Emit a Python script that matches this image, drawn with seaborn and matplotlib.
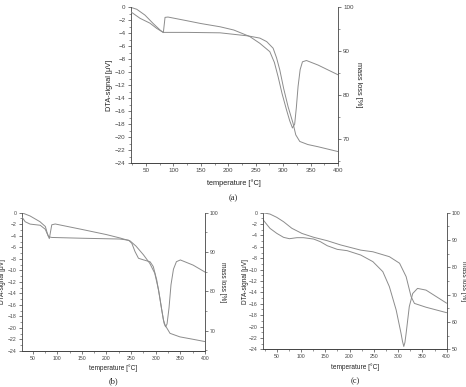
import matplotlib
matplotlib.use('Agg')
import matplotlib.pyplot as plt
from matplotlib.ticker import MultipleLocator
import seaborn as sns

# panel (a)
temp_a_dta = [22, 33, 48, 63, 75.5, 81.5, 84.6, 90, 124, 150, 185, 210, 239, 257.5, 275.7, 284, 290.8,
              298, 306.1, 312, 317, 321, 324, 327.2, 331, 335.2, 342.5, 363.6, 400]
dta_a = [0, -0.3, -1.2, -2.5, -3.5, -3.9, -1.55, -1.5, -2.06, -2.5, -3.0, -3.5, -4.5, -5.55, -6.84, -8.5, -10.7,
         -13.3, -15.8, -17.5, -18.6, -18.0, -15.5, -12.2, -9.6, -8.4, -8.2, -8.9, -10.4]
temp_a_mass = [22, 39, 57, 69.5, 78.6, 81.5, 90, 124, 185, 236, 257.5, 270, 281.7, 288, 293.9, 301, 309,
               318.1, 323, 330.3, 345, 363.6, 400]
mass_a = [99.0, 97.5, 96.4, 95.2, 94.5, 94.3, 94.3, 94.3, 94.2, 93.5, 93.0, 92.2, 90.7, 88.5, 85.75, 81.5, 77.4,
          73.6, 71.0, 69.5, 68.8, 68.3, 67.2]

# panel (b)
temp_b_dta = [28, 45, 65, 76, 80, 84, 89, 96, 150, 200, 228, 248, 260, 275, 288, 298, 306, 312, 317, 320,
              323, 327, 331, 336, 342, 350, 376, 400]
dta_b = [0, -0.57, -1.56, -2.4, -3.6, -4.5, -2.1, -1.96, -2.9, -3.8, -4.4, -4.9, -5.8, -7.3, -8.8, -10.5,
         -13.5, -16.8, -19.2, -19.8, -19.3, -16.5, -12.5, -9.8, -8.5, -8.2, -9.1, -10.3]
temp_b_mass = [28, 35, 45, 65.6, 75.7, 82.4, 89, 150, 227, 245, 251.5, 258, 265, 275, 288.6, 295, 302, 309,
               315.6, 319, 329, 349, 375, 400]
mass_b = [99.0, 97.7, 97.1, 96.8, 95.8, 93.9, 93.7, 93.5, 93.3, 93.0, 92.2, 90.1, 88.4, 88.0, 87.5, 86.3,
          82.9, 77.8, 72.7, 71.4, 69.3, 68.4, 67.8, 67.2]

# panel (c)
temp_c_dta = [21, 36, 50, 64, 76, 91.5, 105, 126, 140, 154, 174.6, 195, 223, 248, 268.5, 282, 296, 306,
              309, 311.7, 314, 316.5, 323, 330, 340, 357.5, 400]
dta_c = [-1.17, -2.75, -3.63, -4.33, -4.57, -4.39, -4.39, -4.63, -5.1, -5.8, -6.44, -6.67, -7.44, -8.6,
         -10.36, -13.0, -17.1, -21.2, -22.6, -23.5, -22.8, -21.2, -16.5, -14.2, -13.3, -13.6, -15.9]
temp_c_mass = [21, 36, 50, 64, 81, 102, 126, 154, 181.5, 223, 248, 282, 303, 316.5, 326.7, 333.6, 357.5, 400]
mass_c = [100, 99.5, 98.3, 96.7, 94.3, 92.4, 91.0, 89.75, 88.2, 86.3, 85.7, 83.9, 81.5, 76.6, 69.3, 66.8,
          65.4, 63.4]

sns.set_style('ticks')
plt.rcParams['font.family'] = ['Liberation Sans', 'DejaVu Sans']
plt.rcParams['axes.linewidth'] = 0.6

line_c = '#8c8c8c'
dark = '#444444'


def panel(fig, rect, t1, y1, t2, y2, xmin, mlim, mstep, tfs, lfs, ylx, rlx, xly, cap, capxy):
    ax = fig.add_axes(rect)
    ax2 = ax.twinx()
    sns.lineplot(x=t1, y=y1, ax=ax, color=line_c, lw=0.7, estimator=None, sort=False)
    sns.lineplot(x=t2, y=y2, ax=ax2, color=line_c, lw=0.7, estimator=None, sort=False)
    ax.set_xlim(xmin, 400)
    ax.set_ylim(-24, 0)
    ax2.set_ylim(*mlim)
    ax.xaxis.set_major_locator(MultipleLocator(50))
    ax.xaxis.set_minor_locator(MultipleLocator(25))
    ax.yaxis.set_major_locator(MultipleLocator(2))
    ax.yaxis.set_minor_locator(MultipleLocator(1))
    ax2.yaxis.set_major_locator(MultipleLocator(mstep))
    ax2.yaxis.set_minor_locator(MultipleLocator(mstep / 2))
    for a in (ax, ax2):
        a.set_xlabel('')
        a.set_ylabel('')
        a.spines['top'].set_visible(False)
        for s in a.spines.values():
            s.set_color(dark)
            s.set_linewidth(0.6)
        a.tick_params(which='major', length=2.2, width=0.5, colors=dark, labelsize=tfs, pad=1.5)
        a.tick_params(which='minor', length=1.2, width=0.4, colors=dark)
    ax.spines['right'].set_visible(False)
    ax2.spines['left'].set_visible(False)
    ax.text(ylx, 0.5, 'DTA-signal [\u03bcV]', transform=ax.transAxes, rotation=90,
            ha='center', va='center', fontsize=lfs, color='#222222')
    ax.text(rlx, 0.5, 'mass loss [%]', transform=ax.transAxes, rotation=-90,
            ha='center', va='center', fontsize=lfs, color='#222222')
    ax.text(0.5, xly, 'temperature [\u00b0C]', transform=ax.transAxes,
            ha='center', va='center', fontsize=lfs, color='#222222')
    fig.text(capxy[0] / 466, 1 - capxy[1] / 387, cap, ha='center', va='center',
             fontsize=6, family='Liberation Serif', color='#222222')
    return ax


fig = plt.figure(figsize=(4.66, 3.87), dpi=100)

panel(fig, [0.2805, 0.5788, 0.4448, 0.4023], temp_a_dta, dta_a, temp_a_mass, mass_a,
      22, (64.6, 100), 10, 4.5, 5.3, -0.10, 1.10, -0.127, '(a)', (233, 198))
panel(fig, [0.0466, 0.0930, 0.3933, 0.3574], temp_b_dta, dta_b, temp_b_mass, mass_b,
      28, (64.8, 100), 10, 3.7, 4.7, -0.104, 1.097, -0.125, '(b)', (113, 381))
panel(fig, [0.5637, 0.0974, 0.3948, 0.3530], temp_c_dta, dta_c, temp_c_mass, mass_c,
      21, (50, 100), 10, 3.7, 4.7, -0.091, 1.089, -0.132, '(c)', (355, 381))

plt.savefig('out.png', dpi=100)
plt.close()
